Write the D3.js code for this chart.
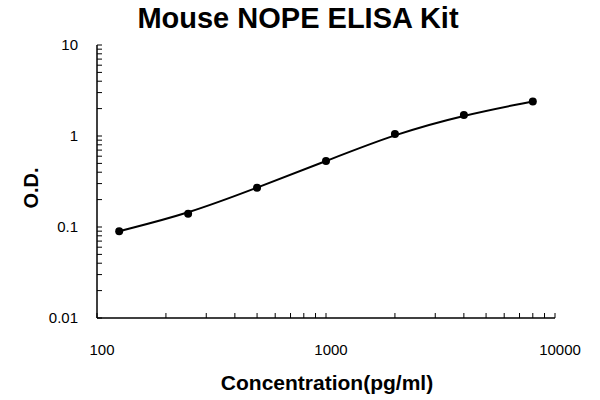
<!DOCTYPE html>
<html><head><meta charset="utf-8">
<script src="https://cdn.jsdelivr.net/npm/d3@7"></script>
<style>body{margin:0;background:#fff}</style></head>
<body><svg id="c" width="600" height="400"></svg>
<script>
const concentrations=[125,250,500,1000,2000,4000,8000];
const odValues=[0.09,0.14,0.27,0.53,1.05,1.7,2.4];
const xTicks=[100,1000,10000];
const yTicks=[0.01,0.1,1,10];

const svg=d3.select("#c");
const x=d3.scaleLog().domain([100,10000]).range([97,555]);
const y=d3.scaleLog().domain([0.01,10]).range([318,45]);
const font="Arial, 'Liberation Sans', sans-serif";

const xMinor=[];for(let d=100;d<10000;d*=10)for(let k=1;k<10;k++)xMinor.push(d*k);
xMinor.push(10000);
const yMinor=[];for(let d=0.01;d<9;d*=10)for(let k=1;k<10;k++)yMinor.push(d*k);
yMinor.push(10);

svg.append("g").selectAll("line").data(xMinor).join("line")
 .attr("x1",d=>x(d)).attr("x2",d=>x(d)).attr("y1",318).attr("y2",313)
 .attr("stroke","#000").attr("stroke-width",1);
svg.append("g").selectAll("line").data(yMinor).join("line")
 .attr("x1",97).attr("x2",102).attr("y1",d=>y(d)).attr("y2",d=>y(d))
 .attr("stroke","#000").attr("stroke-width",1);
svg.append("line").attr("x1",97).attr("x2",555).attr("y1",318).attr("y2",318).attr("stroke","#000").attr("stroke-width",1.5);
svg.append("line").attr("x1",97).attr("x2",97).attr("y1",45).attr("y2",318).attr("stroke","#000").attr("stroke-width",1.5);

svg.append("g").selectAll("text").data(xTicks).join("text")
 .attr("x",d=>x(d)+5).attr("y",355).attr("text-anchor","middle")
 .attr("font-family",font).attr("font-size",15).text(d=>d);
svg.append("g").selectAll("text").data(yTicks).join("text")
 .attr("x",78).attr("y",d=>y(d)+5).attr("text-anchor","end")
 .attr("font-family",font).attr("font-size",15).text(d=>d);

svg.append("path").datum(concentrations.map((c,i)=>[c,odValues[i]]))
 .attr("d",d3.line().x(d=>x(d[0])).y(d=>y(d[1])).curve(d3.curveBasis))
 .attr("fill","none").attr("stroke","#000").attr("stroke-width",2);
svg.append("g").selectAll("circle").data(concentrations).join("circle")
 .attr("cx",d=>x(d)).attr("cy",(d,i)=>y(odValues[i])).attr("r",4).attr("fill","#000");

svg.append("text").attr("x",298).attr("y",28).attr("text-anchor","middle")
 .attr("font-family",font).attr("font-size",29).attr("font-weight","bold").text("Mouse NOPE ELISA Kit");
svg.append("text").attr("x",327).attr("y",390).attr("text-anchor","middle")
 .attr("font-family",font).attr("font-size",21).attr("font-weight","bold").text("Concentration(pg/ml)");
svg.append("text").attr("transform","translate(38,188) rotate(-90)").attr("text-anchor","middle")
 .attr("font-family",font).attr("font-size",20).attr("font-weight","bold").text("O.D.");
</script></body></html>
